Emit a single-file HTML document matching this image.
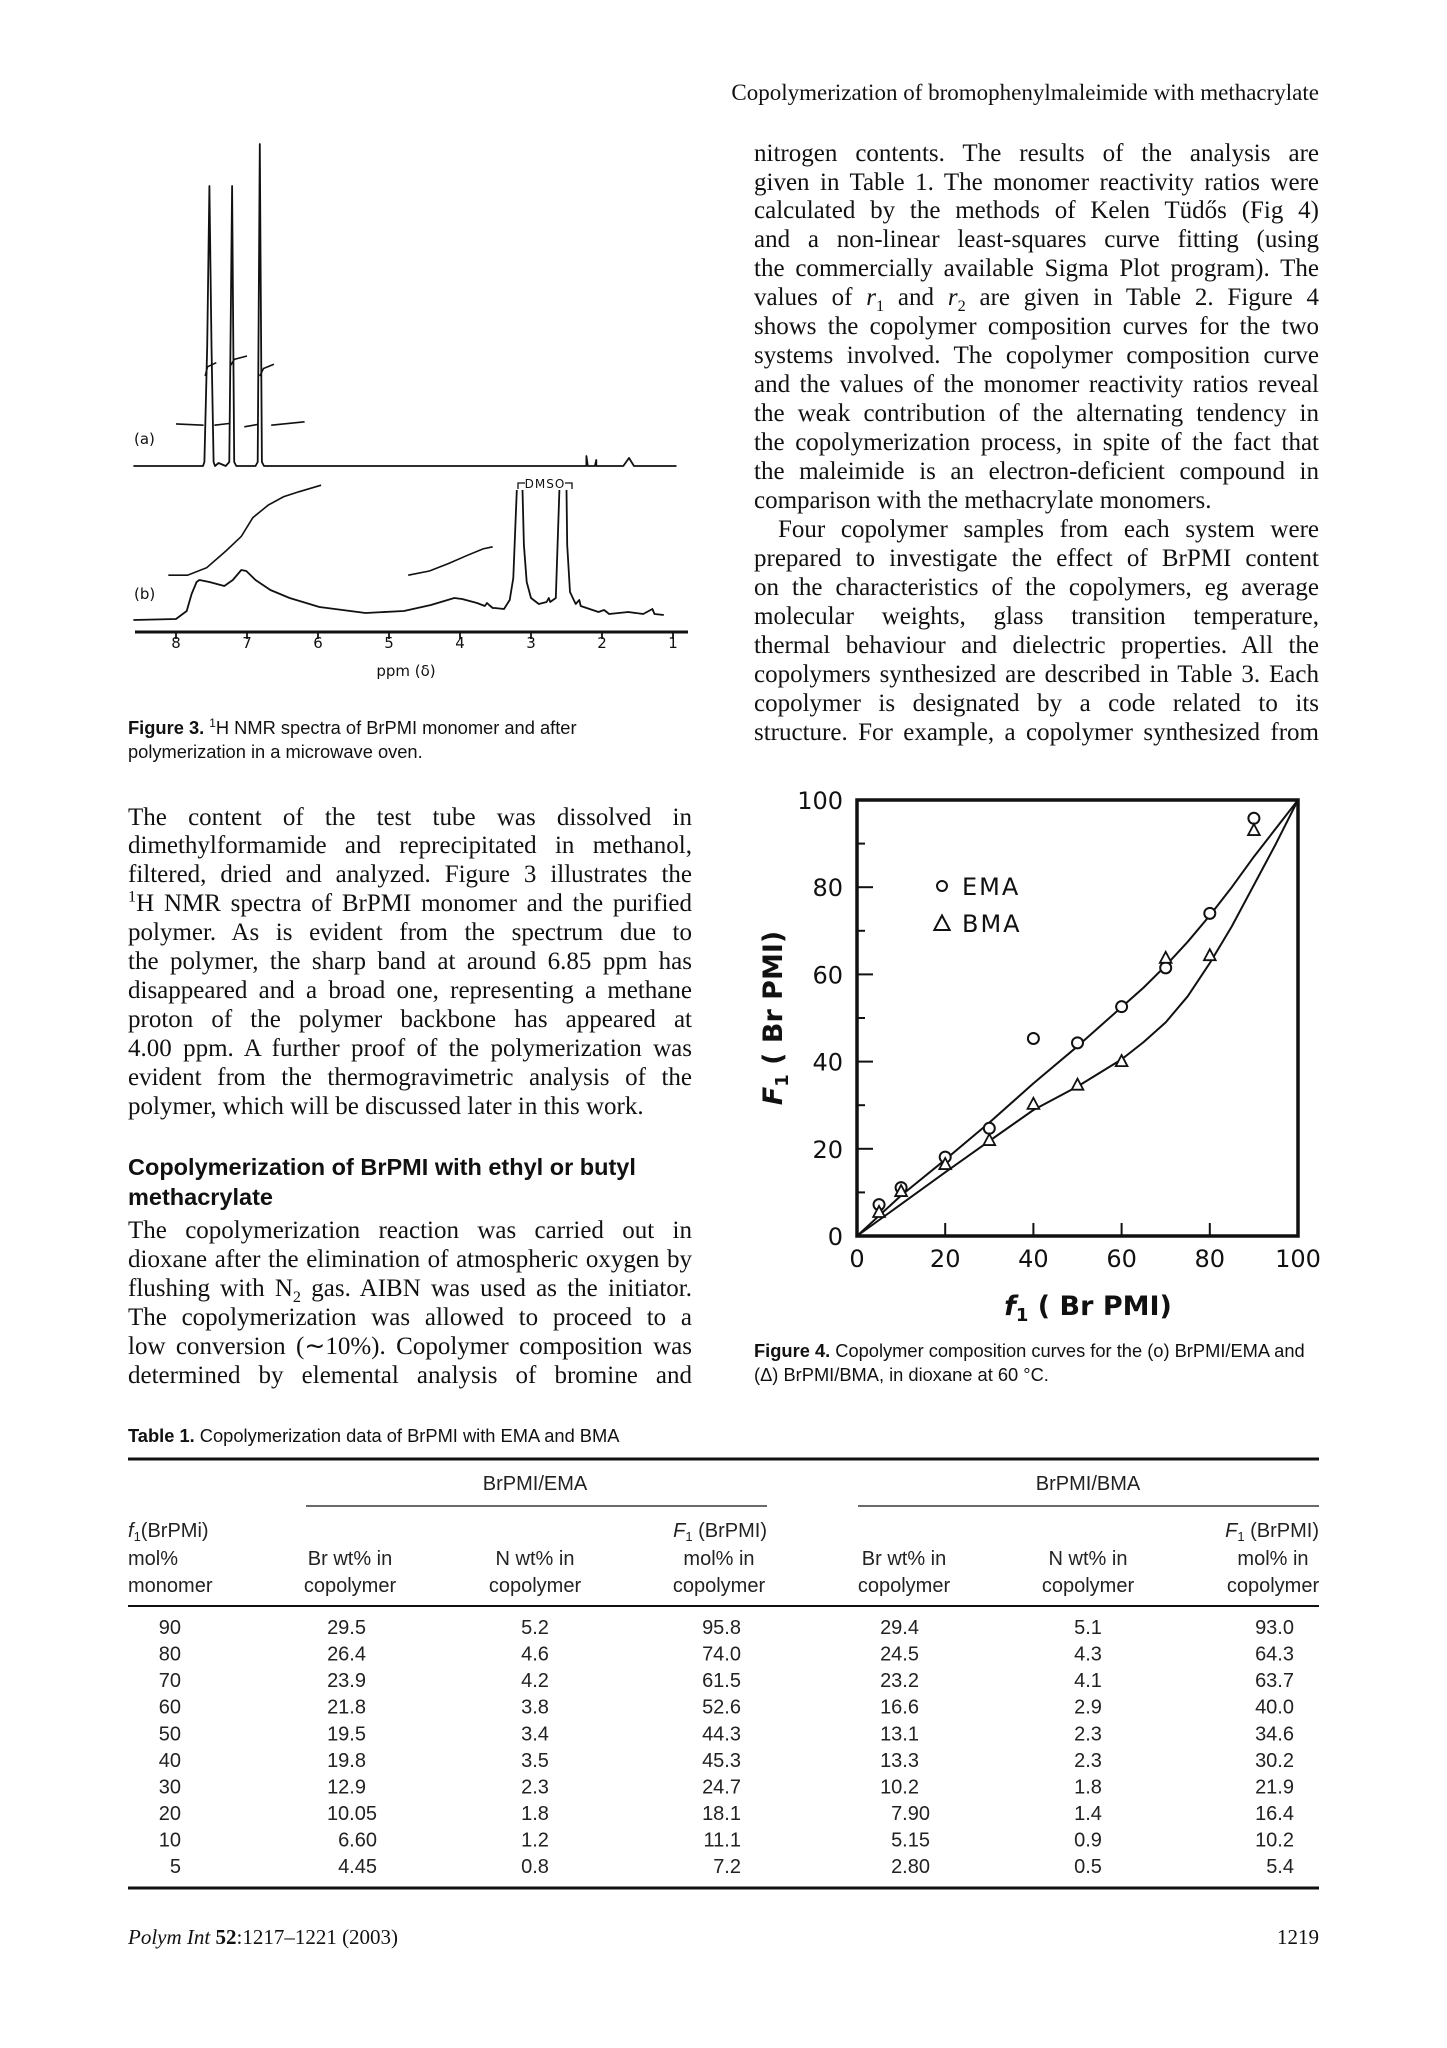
<!DOCTYPE html>
<html><head><meta charset="utf-8">
<style>
html,body{margin:0;padding:0;background:#fff;}
body{width:1447px;height:2048px;position:relative;overflow:hidden;color:#111;}
.serif{font-family:"Liberation Serif",serif;}
.sans{font-family:"Liberation Sans",sans-serif;}
.ln{position:absolute;height:29px;line-height:29px;font-family:"Liberation Serif",serif;font-size:25px;white-space:nowrap;text-align:justify;text-align-last:justify;}
.ln.last{text-align-last:left;}
.L{left:128px;width:564px;}
.R{left:754px;width:565px;}
.cap{position:absolute;font-family:"Liberation Sans",sans-serif;font-size:18.3px;line-height:23.5px;white-space:nowrap;}
sub,sup{font-size:65%;line-height:0;}
svg{position:absolute;left:0;top:0;}
</style></head>
<body>
<div class="serif" style="position:absolute;right:128px;top:80px;font-size:23px;white-space:nowrap;">Copolymerization of bromophenylmaleimide with methacrylate</div>

<div>
<div class="ln R" style="top:138.5px">nitrogen contents. The results of the analysis are</div>
<div class="ln R" style="top:167.5px">given in Table 1. The monomer reactivity ratios were</div>
<div class="ln R" style="top:196.4px">calculated by the methods of Kelen Tüdős (Fig 4)</div>
<div class="ln R" style="top:225.4px">and a non-linear least-squares curve fitting (using</div>
<div class="ln R" style="top:254.3px">the commercially available Sigma Plot program). The</div>
<div class="ln R" style="top:283.3px">values of <i>r</i><sub>1</sub> and <i>r</i><sub>2</sub> are given in Table 2. Figure 4</div>
<div class="ln R" style="top:312.2px">shows the copolymer composition curves for the two</div>
<div class="ln R" style="top:341.2px">systems involved. The copolymer composition curve</div>
<div class="ln R" style="top:370.1px">and the values of the monomer reactivity ratios reveal</div>
<div class="ln R" style="top:399.1px">the weak contribution of the alternating tendency in</div>
<div class="ln R" style="top:428px">the copolymerization process, in spite of the fact that</div>
<div class="ln R" style="top:457px">the maleimide is an electron-deficient compound in</div>
<div class="ln R last" style="top:485.9px">comparison with the methacrylate monomers.</div>
<div class="ln R" style="top:514.9px;left:778px;width:541px">Four copolymer samples from each system were</div>
<div class="ln R" style="top:543.8px">prepared to investigate the effect of BrPMI content</div>
<div class="ln R" style="top:572.8px">on the characteristics of the copolymers, eg average</div>
<div class="ln R" style="top:601.7px">molecular weights, glass transition temperature,</div>
<div class="ln R" style="top:630.7px">thermal behaviour and dielectric properties. All the</div>
<div class="ln R" style="top:659.6px">copolymers synthesized are described in Table 3. Each</div>
<div class="ln R" style="top:688.6px">copolymer is designated by a code related to its</div>
<div class="ln R" style="top:717.5px">structure. For example, a copolymer synthesized from</div>
</div>

<div class="cap" style="left:128px;top:716px;"><b>Figure 3.</b> <sup>1</sup>H NMR spectra of BrPMI monomer and after<br>polymerization in a microwave oven.</div>

<div>
<div class="ln L" style="top:802.5px">The content of the test tube was dissolved in</div>
<div class="ln L" style="top:831.4px">dimethylformamide and reprecipitated in methanol,</div>
<div class="ln L" style="top:860.3px">filtered, dried and analyzed. Figure 3 illustrates the</div>
<div class="ln L" style="top:889.2px"><sup>1</sup>H NMR spectra of BrPMI monomer and the purified</div>
<div class="ln L" style="top:918.1px">polymer. As is evident from the spectrum due to</div>
<div class="ln L" style="top:947px">the polymer, the sharp band at around 6.85 ppm has</div>
<div class="ln L" style="top:975.9px">disappeared and a broad one, representing a methane</div>
<div class="ln L" style="top:1004.8px">proton of the polymer backbone has appeared at</div>
<div class="ln L" style="top:1033.7px">4.00 ppm. A further proof of the polymerization was</div>
<div class="ln L" style="top:1062.6px">evident from the thermogravimetric analysis of the</div>
<div class="ln L last" style="top:1091.5px">polymer, which will be discussed later in this work.</div>
</div>

<div class="sans" style="position:absolute;left:128px;top:1152px;font-size:23.5px;font-weight:bold;line-height:30px;white-space:nowrap;">Copolymerization of BrPMI with ethyl or butyl<br>methacrylate</div>

<div>
<div class="ln L" style="top:1215.5px">The copolymerization reaction was carried out in</div>
<div class="ln L" style="top:1244.5px">dioxane after the elimination of atmospheric oxygen by</div>
<div class="ln L" style="top:1273.5px">flushing with N<sub>2</sub> gas. AIBN was used as the initiator.</div>
<div class="ln L" style="top:1302.5px">The copolymerization was allowed to proceed to a</div>
<div class="ln L" style="top:1331.5px">low conversion (∼10%). Copolymer composition was</div>
<div class="ln L" style="top:1360.5px">determined by elemental analysis of bromine and</div>
</div>

<div class="cap" style="left:754px;top:1339px;"><b>Figure 4.</b> Copolymer composition curves for the (o) BrPMI/EMA and<br>(Δ) BrPMI/BMA, in dioxane at 60 °C.</div>

<div class="cap" style="left:128px;top:1424px;"><b>Table 1.</b> Copolymerization data of BrPMI with EMA and BMA</div>

<div class="serif" style="position:absolute;left:128px;top:1925px;font-size:21px;white-space:nowrap;"><i>Polym Int</i> <b>52</b>:1217–1221 (2003)</div>
<div class="serif" style="position:absolute;right:128px;top:1925px;font-size:21px;">1219</div>

<svg id="svg" width="1447" height="2048"></svg>

<script>
// ---------- Figure 4 data ----------
const f1Ticks = [0, 20, 40, 60, 80, 100];
const emaF1 = [5, 10, 20, 30, 40, 50, 60, 70, 80, 90];
const emaCopolymer = [7.2, 11.1, 18.1, 24.7, 45.3, 44.3, 52.6, 61.5, 74.0, 95.8];
const bmaF1 = [5, 10, 20, 30, 40, 50, 60, 70, 80, 90];
const bmaCopolymer = [5.4, 10.2, 16.4, 21.9, 30.2, 34.6, 40.0, 63.7, 64.3, 93.0];
const curveF1 = [0, 10, 20, 30, 40, 50, 60, 65, 70, 75, 80, 85, 90, 95, 100];
const emaCurve = [0, 9.3, 17.5, 26, 35, 43.5, 52.5, 57, 62, 67.5, 73.5, 80, 87, 93.5, 100];
const bmaCurve = [0, 7.3, 14.6, 21.8, 28.9, 34.3, 40.5, 44.5, 49, 55, 62.6, 71, 80.5, 90, 100];

// ---------- Figure 3 data (ppm, height above baseline in px) ----------
const specAppm = [8.6, 7.62, 7.6, 7.56, 7.53, 7.5, 7.47, 7.45, 7.4, 7.3, 7.25, 7.21, 7.18, 7.15, 7.0, 6.88, 6.85, 6.82, 6.79, 6.76, 6.6, 2.25, 2.22, 2.22, 2.2, 2.1, 2.08, 2.08, 2.05, 1.7, 1.62, 1.55, 0.95];
const specAint = [0, 0, 4, 120, 280, 120, 4, 0, 3, 0, 4, 280, 4, 0, 0, 0, 4, 322, 4, 0, 0, 0, 0, 10, 0, 0, 6, 0, 0, 0, 8, 0, 0];
const specBppm = [8.6, 8.0, 7.85, 7.78, 7.71, 7.67, 7.53, 7.32, 7.2, 7.08, 7.01, 6.88, 6.67, 6.4, 5.98, 5.33, 4.79, 4.41, 4.08, 3.97, 3.76, 3.65, 3.62, 3.59, 3.54, 3.51, 3.38, 3.3, 3.25, 3.2];
const specBint = [0, 1, 9, 26, 38, 40, 38, 34, 40, 50, 49, 40, 30, 22, 13, 7, 9, 15, 22, 21, 17, 14, 17, 15, 12, 12, 11, 20, 42, 130];
const specBppm2 = [3.12, 3.1, 3.06, 3.0, 2.89, 2.78, 2.75, 2.73, 2.65, 2.6];
const specBint2 = [130, 75, 38, 22, 16, 18, 22, 18, 22, 130];
const specBppm3 = [2.5, 2.49, 2.45, 2.37, 2.32, 2.3, 2.05, 1.97, 1.9, 1.63, 1.42, 1.29, 1.26, 1.13];
const specBint3 = [130, 75, 28, 16, 20, 14, 8, 10, 6, 8, 6, 11, 6, 5];
const ppmTicks = [8, 7, 6, 5, 4, 3, 2, 1];

// ---------- Table 1 data ----------
const monomerF1 = ['90','80','70','60','50','40','30','20','10','5'];
const emaBr = ['29.5','26.4','23.9','21.8','19.5','19.8','12.9','10.05','6.60','4.45'];
const emaN = ['5.2','4.6','4.2','3.8','3.4','3.5','2.3','1.8','1.2','0.8'];
const emaF = ['95.8','74.0','61.5','52.6','44.3','45.3','24.7','18.1','11.1','7.2'];
const bmaBr = ['29.4','24.5','23.2','16.6','13.1','13.3','10.2','7.90','5.15','2.80'];
const bmaN = ['5.1','4.3','4.1','2.9','2.3','2.3','1.8','1.4','0.9','0.5'];
const bmaF = ['93.0','64.3','63.7','40.0','34.6','30.2','21.9','16.4','10.2','5.4'];

const NS = 'http://www.w3.org/2000/svg';
const svg = document.getElementById('svg');
function mk(tag, attrs, parent, text) {
  const e = document.createElementNS(NS, tag);
  for (const k in attrs) e.setAttribute(k, attrs[k]);
  if (text !== undefined) e.textContent = text;
  (parent || svg).appendChild(e);
  return e;
}

// ===== Figure 4 =====
const X0 = 857, X1 = 1298, Y0 = 1236, Y1 = 800;
const xs = v => X0 + (X1 - X0) * v / 100;
const ys = v => Y0 - (Y0 - Y1) * v / 100;
const f4 = mk('g', {});


const frame = mk('rect', {x: X0, y: Y1, width: X1 - X0, height: Y0 - Y1, fill: 'none', stroke: '#111', 'stroke-width': 3.5}, f4);


for (let v = 10; v < 100; v += 10) {
  const major = v % 20 === 0;
  const t = mk('line', {x1: X0, x2: X0 + (major ? 16 : 8), y1: ys(v), y2: ys(v), stroke: '#111', 'stroke-width': 2}, f4);
  
  
}
for (let i = 1; i < f1Ticks.length - 1; i++) {
  const t = mk('line', {x1: xs(f1Ticks[i]), x2: xs(f1Ticks[i]), y1: Y0, y2: Y0 - 13, stroke: '#111', 'stroke-width': 2}, f4);
  
  
}
f1Ticks.forEach(v => {
  const yl = mk('text', {x: 843, y: ys(v) + 9, 'text-anchor': 'end', 'font-family': 'DejaVu Sans, sans-serif', 'font-size': 24, fill: '#111'}, f4, String(v));
  
  
  const xl = mk('text', {x: xs(v), y: 1267, 'text-anchor': 'middle', 'font-family': 'DejaVu Sans, sans-serif', 'font-size': 24, fill: '#111'}, f4, String(v));
  
  
});
const xt = mk('text', {x: 1088, y: 1315, 'text-anchor': 'middle', 'font-family': 'DejaVu Sans, sans-serif', 'font-size': 27, 'font-weight': 'bold', fill: '#111'}, f4);


mk('tspan', {'font-style': 'italic'}, xt, 'f');
mk('tspan', {'font-size': 18, dy: 6}, xt, '1');
mk('tspan', {dy: -6}, xt, ' ( Br PMI)');
const yt = mk('text', {x: 0, y: 0, 'text-anchor': 'middle', 'font-family': 'DejaVu Sans, sans-serif', 'font-size': 27, 'font-weight': 'bold', fill: '#111', transform: 'translate(782,1018) rotate(-90)'}, f4);


mk('tspan', {'font-style': 'italic'}, yt, 'F');
mk('tspan', {'font-size': 18, dy: 6}, yt, '1');
mk('tspan', {dy: -6}, yt, ' ( Br PMI)');
function curve(xsArr, ysArr, name) {
  const d = xsArr.map((v, i) => (i ? 'L' : 'M') + xs(v).toFixed(1) + ',' + ys(ysArr[i]).toFixed(1)).join(' ');
  const p = mk('path', {d: d, fill: 'none', stroke: '#111', 'stroke-width': 2, 'stroke-linejoin': 'round'}, f4);
  
  
}
curve(curveF1, emaCurve, 'ema-fit-curve');
curve(curveF1, bmaCurve, 'bma-fit-curve');
emaF1.forEach((v, i) => {
  const c = mk('circle', {cx: xs(v), cy: ys(emaCopolymer[i]), r: 5.5, fill: '#fff', stroke: '#111', 'stroke-width': 2}, f4);
  
  
});
function tri(cx, cy, s) {
  return (cx) + ',' + (cy - s) + ' ' + (cx - s * 0.9) + ',' + (cy + s * 0.7) + ' ' + (cx + s * 0.9) + ',' + (cy + s * 0.7);
}
bmaF1.forEach((v, i) => {
  const t = mk('polygon', {points: tri(xs(v), ys(bmaCopolymer[i]), 6.5), fill: '#fff', stroke: '#111', 'stroke-width': 1.8}, f4);
  
  
});
const lg = mk('g', {}, f4);


const le1 = mk('circle', {cx: 942, cy: 886, r: 5, fill: 'none', stroke: '#111', 'stroke-width': 2}, lg);


const lt1 = mk('text', {x: 962, y: 895, 'font-family': 'DejaVu Sans, sans-serif', 'font-size': 24, 'letter-spacing': 2, fill: '#111'}, lg, 'EMA');


const le2 = mk('polygon', {points: tri(942, 924, 8.5), fill: 'none', stroke: '#111', 'stroke-width': 2}, lg);


const lt2 = mk('text', {x: 962, y: 932, 'font-family': 'DejaVu Sans, sans-serif', 'font-size': 24, 'letter-spacing': 2, fill: '#111'}, lg, 'BMA');



// ===== Figure 3 (NMR) =====
const px = p => 176 + (8 - p) * 71;
const BA = 466, BB = 620;
const f3 = mk('g', {});


function spec(pp, ii, base, name) {
  const d = pp.map((p, i) => (i ? 'L' : 'M') + px(p).toFixed(1) + ',' + (base - ii[i]).toFixed(1)).join(' ');
  const s = mk('path', {d: d, fill: 'none', stroke: '#111', 'stroke-width': 1.8, 'stroke-linejoin': 'round'}, f3);
  
  
}
spec(specAppm, specAint, BA, 'spectrum-a');
spec(specBppm, specBint, BB, 'spectrum-b');
spec(specBppm2, specBint2, BB, 'spectrum-b');
spec(specBppm3, specBint3, BB, 'spectrum-b');
// integration traces (zoom-space coordinates converted)
const integ = [
  [[200,715],[272,718]], [[276,600],[282,578],[305,568]],
  [[300,718],[338,714]], [[342,575],[352,560],[385,552]],
  [[378,722],[415,716]], [[418,600],[428,582],[455,572]],
  [[448,718],[535,710]],
  [[180,1078],[230,1078],[280,1060],[330,1020],[370,985],[400,940],[440,910],[480,890],[520,878],[578,862]],
  [[805,1078],[860,1068],[910,1050],[960,1030],[1000,1015],[1025,1010]]
];
integ.forEach(seg => {
  const d = seg.map((q, i) => (i ? 'L' : 'M') + (176 + (q[0] - 200) / 2.605).toFixed(1) + ',' + (126 + q[1] / 2.4).toFixed(1)).join(' ');
  const s = mk('path', {d: d, fill: 'none', stroke: '#111', 'stroke-width': 1.6}, f3);
  
  
});
const ax = mk('line', {x1: 135, x2: 688, y1: 632, y2: 632, stroke: '#111', 'stroke-width': 3}, f3);


ppmTicks.forEach(p => {
  const t = mk('line', {x1: px(p), x2: px(p), y1: 632, y2: 639, stroke: '#111', 'stroke-width': 1.8}, f3);
  
  
  const l = mk('text', {x: px(p), y: 648, 'text-anchor': 'middle', 'font-family': 'DejaVu Sans, sans-serif', 'font-size': 15, fill: '#111'}, f3, String(p));
  
  
});
const pl = mk('text', {x: 406, y: 676, 'text-anchor': 'middle', 'font-family': 'DejaVu Sans, sans-serif', 'font-size': 15, fill: '#111'}, f3, 'ppm (δ)');


const la = mk('text', {x: 134, y: 444, 'font-family': 'DejaVu Sans, sans-serif', 'font-size': 15, fill: '#111'}, f3, '(a)');


const lb = mk('text', {x: 134, y: 599, 'font-family': 'DejaVu Sans, sans-serif', 'font-size': 15, fill: '#111'}, f3, '(b)');


const dm = mk('text', {x: 545, y: 488, 'text-anchor': 'middle', 'font-family': 'DejaVu Sans, sans-serif', 'font-size': 12, 'letter-spacing': 1, fill: '#111'}, f3, 'DMSO');


const br = mk('path', {d: 'M518,489 L518,483 L525,483 M565,483 L572,483 L572,489', fill: 'none', stroke: '#111', 'stroke-width': 1.3}, f3);



// ===== Table 1 =====
const tb = mk('g', {'font-family': 'Liberation Sans, sans-serif', 'font-size': 20, fill: '#222'});


function rule(x1, x2, y, w, name) {
  const r = mk('line', {x1: x1, x2: x2, y1: y, y2: y, stroke: '#111', 'stroke-width': w}, tb);
  
  
}
rule(128, 1319, 1459, 3, 'table-top-rule');
rule(306, 767, 1506, 1.2, 'ema-group-rule');
rule(858, 1319, 1506, 1.2, 'bma-group-rule');
rule(128, 1319, 1606, 2, 'table-header-rule');
rule(128, 1319, 1888, 3, 'table-bottom-rule');
function tx(x, y, anchor, s, name) {
  const t = mk('text', {x: x, y: y, 'text-anchor': anchor}, tb, s);
  
  
  return t;
}
tx(535, 1490, 'middle', 'BrPMI/EMA', 'ema-group-header');
tx(1088, 1490, 'middle', 'BrPMI/BMA', 'bma-group-header');
const h1 = tx(128, 1537, 'start', '', 'col-header-f1');
mk('tspan', {'font-style': 'italic'}, h1, 'f');
mk('tspan', {'font-size': 13, dy: 4}, h1, '1');
mk('tspan', {dy: -4}, h1, '(BrPMi)');
tx(128, 1565, 'start', 'mol%', 'col-header-f1');
tx(128, 1592, 'start', 'monomer', 'col-header-f1');
[[350, 'Br wt% in'], [535, 'N wt% in'], [904, 'Br wt% in'], [1088, 'N wt% in']].forEach(c => {
  tx(c[0], 1565, 'middle', c[1], 'col-header');
  tx(c[0], 1592, 'middle', 'copolymer', 'col-header');
});
[[719, 767], [1273, 1319]].forEach(c => {
  const h = tx(c[1], 1537, 'end', '', 'col-header-F1');
  mk('tspan', {'font-style': 'italic'}, h, 'F');
  mk('tspan', {'font-size': 13, dy: 4}, h, '1');
  mk('tspan', {dy: -4}, h, ' (BrPMI)');
  tx(c[0], 1565, 'middle', 'mol% in', 'col-header-F1');
  tx(c[0], 1592, 'middle', 'copolymer', 'col-header-F1');
});
const dec2 = s => s.split('.')[1] && s.split('.')[1].length === 2;
monomerF1.forEach((v, i) => {
  const y = 1634 + i * 26.57;
  tx(181, y, 'end', v, 'cell-f1');
  tx(dec2(emaBr[i]) ? 377 : 366, y, 'end', emaBr[i], 'cell-ema-br');
  tx(535, y, 'middle', emaN[i], 'cell-ema-n');
  tx(741, y, 'end', emaF[i], 'cell-ema-F1');
  tx(dec2(bmaBr[i]) ? 930 : 919, y, 'end', bmaBr[i], 'cell-bma-br');
  tx(1088, y, 'middle', bmaN[i], 'cell-bma-n');
  tx(1294, y, 'end', bmaF[i], 'cell-bma-F1');
});
</script>
</body></html>
